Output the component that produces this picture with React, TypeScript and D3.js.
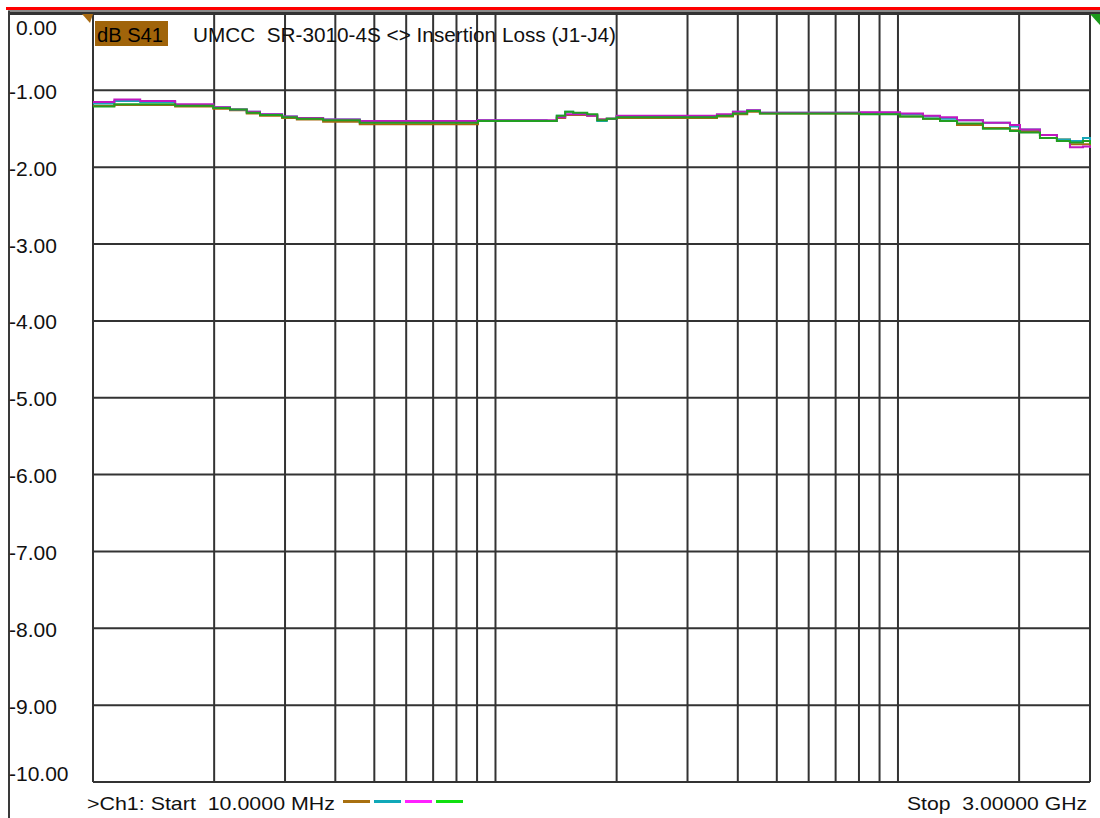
import React from "react";
import * as d3 from "d3";

// Frequencies (MHz) of the sampled trace points
const freqs = [10, 11.3, 13.1, 16, 19.9, 21.9, 24.1, 26, 29.5, 32.1, 37.3, 46, 68.8, 80.2, 90.5, 134, 142, 149, 156, 169, 179, 189, 200, 256, 355, 389, 422, 454, 805, 1012, 1154, 1272, 1402, 1626, 1898, 2010, 2253, 2483, 2675, 2882, 3000];

// S41 insertion loss (dB), four traces
const brownTrace = [-1.20, -1.19, -1.19, -1.21, -1.24, -1.26, -1.30, -1.33, -1.36, -1.38, -1.41, -1.44, -1.44, -1.44, -1.40, -1.40, -1.36, -1.32, -1.32, -1.33, -1.38, -1.37, -1.36, -1.36, -1.34, -1.31, -1.28, -1.30, -1.30, -1.34, -1.37, -1.40, -1.45, -1.49, -1.52, -1.53, -1.58, -1.64, -1.70, -1.70, -1.75];
const tealTrace = [-1.17, -1.14, -1.15, -1.19, -1.22, -1.25, -1.28, -1.31, -1.34, -1.36, -1.38, -1.41, -1.41, -1.41, -1.39, -1.40, -1.33, -1.28, -1.30, -1.32, -1.40, -1.37, -1.34, -1.34, -1.32, -1.28, -1.26, -1.29, -1.29, -1.31, -1.34, -1.37, -1.39, -1.42, -1.47, -1.51, -1.58, -1.64, -1.66, -1.62, -1.66];
const magentaTrace = [-1.15, -1.12, -1.14, -1.18, -1.22, -1.25, -1.28, -1.31, -1.34, -1.36, -1.38, -1.40, -1.40, -1.40, -1.39, -1.39, -1.35, -1.31, -1.31, -1.33, -1.38, -1.37, -1.33, -1.33, -1.31, -1.28, -1.26, -1.29, -1.285, -1.30, -1.33, -1.35, -1.39, -1.42, -1.45, -1.51, -1.58, -1.66, -1.74, -1.73, -1.75];
const greenTrace = [-1.21, -1.18, -1.18, -1.20, -1.23, -1.25, -1.29, -1.32, -1.35, -1.37, -1.39, -1.42, -1.42, -1.42, -1.40, -1.40, -1.33, -1.28, -1.29, -1.31, -1.39, -1.37, -1.35, -1.35, -1.33, -1.30, -1.27, -1.30, -1.31, -1.34, -1.37, -1.40, -1.43, -1.50, -1.53, -1.55, -1.62, -1.66, -1.68, -1.66, -1.70];

const traceColors = ["#A86A12", "#18A8B8", "#C018C0", "#229E22"];
const legendColors = ["#A87010", "#10A8B8", "#FF20FF", "#10E010"];

const yTicks = [0, -1, -2, -3, -4, -5, -6, -7, -8, -9, -10];

const titleBadge = "dB S41";
const titleText = "UMCC  SR-3010-4S <> Insertion Loss (J1-J4)";
const startText = ">Ch1: Start  10.0000 MHz";
const stopText = "Stop  3.00000 GHz";

const FONT = "'Liberation Sans', Arial, sans-serif";

export default function App() {
  const W = 1100, H = 818;
  const x = d3.scaleLog().domain([10, 3000]).range([93, 1090]);
  const y = d3.scaleLinear().domain([0, -10]).range([13.5, 782]);
  const xTicks = x.ticks();

  const series = [brownTrace, tealTrace, magentaTrace, greenTrace];
  const line = d3
    .line<number>()
    .x((_, i) => x(freqs[i]))
    .y((d) => y(d))
    .curve(d3.curveStepAfter);

  return (
    <svg
      width={W}
      height={H}
      style={{ position: "absolute", left: 0, top: 0, background: "#fff", display: "block" }}
    >
      <rect x={0} y={0} width={W} height={H} fill="#ffffff" />
      {/* top instrument bars */}
      <rect x={6} y={7} width={W - 6} height={3} fill="#ff0000" />
      <rect x={8} y={10} width={W - 8} height={2} fill="#8a8a8a" />
      <rect x={8} y={12} width={W - 8} height={3} fill="#333333" />
      {/* left border */}
      <rect x={8} y={11} width={2} height={H - 11} fill="#3a3a3a" />

      {/* horizontal gridlines */}
      {yTicks.map((t) => (
        <line key={"h" + t} x1={x(10)} x2={x(3000)} y1={y(t)} y2={y(t)} stroke="#333" strokeWidth={2} />
      ))}
      {/* vertical gridlines */}
      {xTicks.map((t) => (
        <line key={"v" + t} x1={x(t)} x2={x(t)} y1={y(0)} y2={y(-10)} stroke="#333" strokeWidth={2} />
      ))}

      {/* y labels */}
      {yTicks.map((t, i) => {
        let base = y(t) + 8.5;
        if (i === 0) base = 35;
        if (i === yTicks.length - 1) base = 781;
        const label = (t < 0 ? "-" : "") + Math.abs(t).toFixed(2);
        return (
          <text key={"yl" + t} x={t < 0 ? 9 : 16} y={base} fontFamily={FONT} fontSize={21} fill="#111">
            {label}
          </text>
        );
      })}

      {/* markers */}
      <polygon points="82,14 93,14 90,23" fill="#A86A12" />
      <polygon points="1090,14 1100,14 1100,25" fill="#1a9a1a" />

      {/* traces */}
      {series.map((s, i) => (
        <path key={"tr" + i} d={line(s) || ""} fill="none" stroke={traceColors[i]} strokeWidth={2} />
      ))}

      {/* title */}
      <rect x={95} y={21} width={73} height={25} fill="#A0640A" />
      <text x={97} y={42} fontFamily={FONT} fontSize={20} fill="#000" textLength={66} lengthAdjust="spacingAndGlyphs">
        {titleBadge}
      </text>
      <text
        x={193}
        y={42}
        fontFamily={FONT}
        fontSize={20}
        fill="#111"
        style={{ whiteSpace: "pre" }}
        textLength={423}
        lengthAdjust="spacingAndGlyphs"
      >
        {titleText}
      </text>

      {/* bottom annotations */}
      <text
        x={87}
        y={810}
        fontFamily={FONT}
        fontSize={19}
        fill="#111"
        style={{ whiteSpace: "pre" }}
        textLength={248}
        lengthAdjust="spacingAndGlyphs"
      >
        {startText}
      </text>
      {legendColors.map((c, i) => (
        <rect key={"lg" + i} x={343 + i * 31} y={800} width={27} height={3} fill={c} />
      ))}
      <text
        x={907}
        y={810}
        fontFamily={FONT}
        fontSize={19}
        fill="#111"
        style={{ whiteSpace: "pre" }}
        textLength={180}
        lengthAdjust="spacingAndGlyphs"
      >
        {stopText}
      </text>
    </svg>
  );
}
